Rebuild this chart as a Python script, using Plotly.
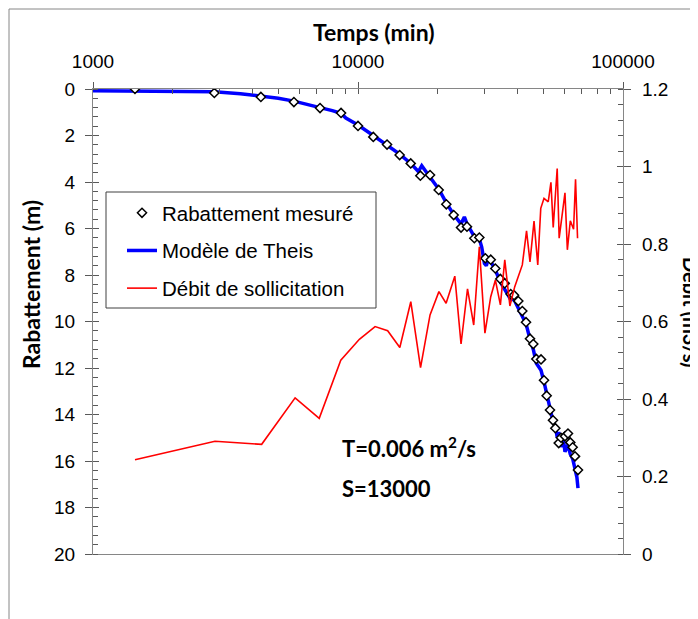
import plotly.graph_objects as go

# ---- data ----
t_mesure = [1440, 2870, 4300, 5730, 7190, 8630, 10000, 11420, 12870, 14360, 15810,
            17190, 18700, 20160, 21540, 22960, 24480, 25780, 27480, 28700, 30230,
            31690, 32970, 34440, 35770, 37680, 38800, 40270, 41690, 43050, 44570,
            45870, 47090, 49050, 50340, 51520, 53030, 54430, 55550, 57200, 58340,
            60400, 62000, 63250, 64570, 65900, 67630]
s_mesure = [0.0, 0.17, 0.34, 0.56, 0.82, 1.03, 1.59, 2.06, 2.39, 2.84, 3.20,
            3.73, 3.70, 4.34, 4.96, 5.42, 5.96, 5.92, 6.42, 6.39, 7.28,
            7.34, 7.72, 8.17, 8.36, 8.82, 8.87, 9.12, 9.55, 10.03, 10.74,
            10.97, 11.61, 11.63, 12.53, 13.19, 13.81, 14.25, 14.59, 15.23, 15.00,
            14.94, 14.82, 15.20, 15.41, 15.80, 16.39]

t_theis = [1000, 2000, 2870, 3600, 4300, 5000, 5730, 6500, 7190, 8000, 8630, 9000,
           10000, 11420, 12870, 14360, 15810, 16900, 17400, 18000, 18700, 20160,
           21540, 22960, 24480, 25200, 25780, 27480, 28700, 29300, 30000, 30500,
           31000, 32000, 33000, 34440, 35770, 37680, 38800, 40270, 41690, 43050,
           44570, 45870, 47090, 49050, 50340, 51520, 53030, 54430, 55550, 56500,
           57200, 58340, 59500, 60400, 62000, 63250, 64570, 65900, 67000, 67630]
s_theis = [0.08, 0.09, 0.12, 0.20, 0.30, 0.40, 0.52, 0.66, 0.80, 0.93, 1.05, 1.25,
           1.55, 2.00, 2.40, 2.80, 3.20, 3.55, 3.30, 3.55, 3.80, 4.30,
           4.90, 5.40, 5.80, 5.50, 5.80, 6.35, 6.45, 6.80, 7.50, 7.60,
           7.30, 7.50, 7.80, 8.30, 8.60, 9.05, 9.05, 9.40, 9.75, 10.10,
           10.75, 11.20, 11.80, 12.10, 12.60, 13.10, 13.75, 14.30, 14.50, 15.00,
           14.75, 15.40, 15.00, 15.60, 15.30, 15.70, 15.90, 16.30, 16.70, 17.17]

t_debit = [1440, 2886, 4330, 5790, 7140, 8610, 10120, 11600, 12940, 14380, 15820,
           17220, 18700, 20200, 21500, 23190, 24480, 25900, 27330, 28700, 30130,
           31690, 33000, 34460, 35800, 37430, 39040, 41690, 43250, 44570, 46160,
           47680, 48940, 50340, 52230, 53460, 54530, 56450, 57430, 60400, 61660,
           63270, 65090, 66210, 67370]
q_debit = [0.243, 0.291, 0.283, 0.403, 0.350, 0.500, 0.554, 0.587, 0.576, 0.533, 0.651,
           0.481, 0.617, 0.677, 0.647, 0.717, 0.542, 0.684, 0.591, 0.793, 0.570,
           0.664, 0.707, 0.643, 0.759, 0.640, 0.690, 0.746, 0.834, 0.754, 0.859,
           0.746, 0.892, 0.918, 0.909, 0.959, 0.843, 0.995, 0.815, 0.932, 0.785,
           0.860, 0.838, 0.967, 0.815]

x_major = [1000, 10000, 100000]
x_major_text = ["1000", "10000", "100000"]
x_minor = [2000, 3000, 4000, 5000, 6000, 7000, 8000, 9000,
           20000, 30000, 40000, 50000, 60000, 70000, 80000, 90000]

# ---- geometry (page pixels; the page body adds an 8 px offset) ----
OFF = 8
W, H = 698 - OFF, 619 - OFF
L, R, T, B = 93, 623, 89, 554


def px(x):
    return (x - L) / (R - L)


def py(y):
    return (B - y) / (B - T)


AX = "#868686"
TK = "#595959"
FONT = "Liberation Sans, Arial, sans-serif"
BFONT = "Lato, Liberation Sans, sans-serif"

fig = go.Figure()
fig.add_trace(go.Scatter(
    x=t_theis, y=s_theis, mode="lines", name="Modèle de Theis",
    line=dict(color="#0000FF", width=3.5), legendrank=2, legendgroup="b",
    xaxis="x", yaxis="y"))
fig.add_trace(go.Scatter(
    x=t_mesure, y=s_mesure, mode="markers", name="Rabattement mesuré",
    marker=dict(symbol="diamond", size=7, color="white",
                line=dict(color="black", width=1.5)),
    legendrank=1, legendgroup="a", xaxis="x", yaxis="y"))
fig.add_trace(go.Scatter(
    x=t_debit, y=q_debit, mode="lines", name="Débit de sollicitation",
    line=dict(color="#FF0000", width=1.6), legendrank=3, legendgroup="c",
    xaxis="x", yaxis="y2"))
# empty helper traces so that the tick-only overlay axes are drawn
for xa, ya in (("x3", "y"), ("x", "y3"), ("x", "y4")):
    fig.add_trace(go.Scatter(x=[], y=[], xaxis=xa, yaxis=ya, showlegend=False,
                             hoverinfo="skip", mode="lines"))

tickfont = dict(family=FONT, size=19, color="#000000")

fig.update_layout(
    width=W, height=H,
    margin=dict(l=L - OFF, r=W - (R - OFF), t=T - OFF, b=H - (B - OFF), pad=0),
    paper_bgcolor="white", plot_bgcolor="white",
    showlegend=True,
    xaxis=dict(
        type="log", range=[3, 5], side="top", anchor="y",
        tickmode="array", tickvals=x_major, ticktext=x_major_text,
        ticks="outside", ticklen=6, tickcolor=TK, tickwidth=1,
        minor=dict(ticks="inside", ticklen=5, tickcolor=TK, tickwidth=1,
                   tickmode="array", tickvals=x_minor, showgrid=False),
        showline=True, linecolor=AX, linewidth=1.3, mirror=True,
        showgrid=False, zeroline=False, tickfont=tickfont,
        ticklabelstandoff=6),
    xaxis3=dict(
        type="log", range=[3, 5], side="top", anchor="y", overlaying="x",
        tickmode="array", tickvals=x_major, ticktext=["", "", ""],
        showticklabels=False,
        ticks="inside", ticklen=5, tickcolor=TK, showline=False,
        showgrid=False, zeroline=False),
    yaxis=dict(
        range=[20, 0], dtick=2, tick0=0, anchor="x",
        ticks="outside", ticklen=7, tickcolor=TK, tickwidth=1,
        minor=dict(ticks="inside", ticklen=5, dtick=0.4, tick0=0,
                   tickcolor=TK, tickwidth=1, showgrid=False),
        showline=True, linecolor=AX, linewidth=1.3,
        showgrid=False, zeroline=False, tickfont=tickfont,
        ticklabelstandoff=6),
    yaxis3=dict(
        range=[20, 0], dtick=2, tick0=0, anchor="x", overlaying="y",
        side="left", ticks="inside", ticklen=6, tickcolor=TK,
        showticklabels=False, showline=False, showgrid=False, zeroline=False),
    yaxis2=dict(
        range=[0, 1.2], dtick=0.2, tick0=0, anchor="x", overlaying="y",
        side="right", ticks="outside", ticklen=7, tickcolor=TK, tickwidth=1,
        minor=dict(ticks="inside", ticklen=5, dtick=0.04, tick0=0,
                   tickcolor=TK, tickwidth=1, showgrid=False),
        showline=True, linecolor=AX, linewidth=1.3,
        showgrid=False, zeroline=False, tickfont=tickfont,
        ticklabelstandoff=7),
    yaxis4=dict(
        range=[0, 1.2], dtick=0.2, tick0=0, anchor="x", overlaying="y",
        side="right", ticks="inside", ticklen=6, tickcolor=TK,
        showticklabels=False, showline=False, showgrid=False, zeroline=False),
    legend=dict(
        x=px(122), y=py(193), xanchor="left", yanchor="top",
        bgcolor="rgba(0,0,0,0)", borderwidth=0,
        font=dict(family=FONT, size=20.5, color="#000000"),
        traceorder="grouped", tracegroupgap=8, itemwidth=30),
)

# legend frame and outer chart frame
fig.add_shape(type="rect", xref="paper", yref="paper",
              x0=px(106), x1=px(376), y0=py(308), y1=py(192),
              line=dict(color="#404040", width=1), fillcolor="white", layer="below")
fig.add_shape(type="line", xref="paper", yref="paper",
              x0=px(9), x1=px(9), y0=py(9), y1=py(640),
              line=dict(color=AX, width=1))
fig.add_shape(type="line", xref="paper", yref="paper",
              x0=px(9), x1=px(720), y0=py(9), y1=py(9),
              line=dict(color=AX, width=1))

# titles
fig.add_annotation(text="<b>Temps (min)</b>", xref="paper", yref="paper",
                   x=px(374), y=py(32), xanchor="center", yanchor="middle",
                   showarrow=False,
                   font=dict(family=BFONT, size=23, color="#000000"))
fig.add_annotation(text="<b>Rabattement (m)</b>", xref="paper", yref="paper",
                   x=px(31), y=py(285), xanchor="center", yanchor="middle",
                   showarrow=False, textangle=-90,
                   font=dict(family=BFONT, size=23, color="#000000"))
fig.add_annotation(text="<b>Débit (m3/s)</b>", xref="paper", yref="paper",
                   x=px(691), y=py(312), xanchor="center", yanchor="middle",
                   showarrow=False, textangle=90,
                   font=dict(family=BFONT, size=20, color="#000000"))

# parameter text
fig.add_annotation(text="<b>T=0.006 m<sup>2</sup>/s</b>", xref="paper", yref="paper",
                   x=px(340), y=py(447), xanchor="left", yanchor="middle",
                   showarrow=False,
                   font=dict(family=BFONT, size=22, color="#000000"))
fig.add_annotation(text="<b>S=13000</b>", xref="paper", yref="paper",
                   x=px(340), y=py(488), xanchor="left", yanchor="middle",
                   showarrow=False,
                   font=dict(family=BFONT, size=22, color="#000000"))

fig.write_html("out.html")
